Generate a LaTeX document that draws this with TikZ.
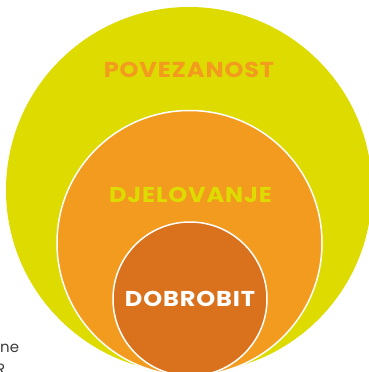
\documentclass[tikz,border=0pt]{standalone}
\usepackage{fontspec}
\setmainfont{Poppins}
\newfontfamily\natpisfont[LetterSpace=4,FakeStretch=1.12]{Poppins}
\definecolor{kiwi}{RGB}{221,219,0}
\definecolor{narancasta}{RGB}{243,155,30}
\definecolor{tamnonaranc}{RGB}{217,113,29}
\definecolor{tekstsiva}{RGB}{60,60,60}
\tikzset{
  krug/.style={draw=white, line width=1.5pt},
  natpis/.style={font=\natpisfont\bfseries\fontsize{21.5}{26}\selectfont, inner sep=0pt}
}
\begin{document}
\begin{tikzpicture}[x=1pt,y=-1pt]
  \useasboundingbox (0,0) rectangle (369,372);
  \clip (0,0) rectangle (369,372);
  % krugovi
  \fill[kiwi] (189,190) coordinate (V) circle (183pt);
  \filldraw[krug, fill=narancasta] (189.5,243) coordinate (D) circle (132.5pt);
  \filldraw[krug, fill=tamnonaranc] (190,299) coordinate (B) circle (77pt);
  % natpisi
  \node[natpis, text=narancasta] (povezanost) at (189,70) {POVEZANOST};
  \node[natpis, text=kiwi] (djelovanje) at (190.5,194.5) {DJELOVANJE};
  \node[natpis, text=white] (dobrobit) at (190,298.5) {DOBROBIT};
  % ostatak teksta sa stranice
  \node[anchor=base west, inner sep=0pt, text=tekstsiva, font=\fontsize{15}{18}\selectfont] (ne) at (0,352) {ne};
  \node[anchor=base west, inner sep=0pt, text=tekstsiva, font=\fontsize{15}{18}\selectfont] (r) at (-4,374) {R};
\end{tikzpicture}
\end{document}
